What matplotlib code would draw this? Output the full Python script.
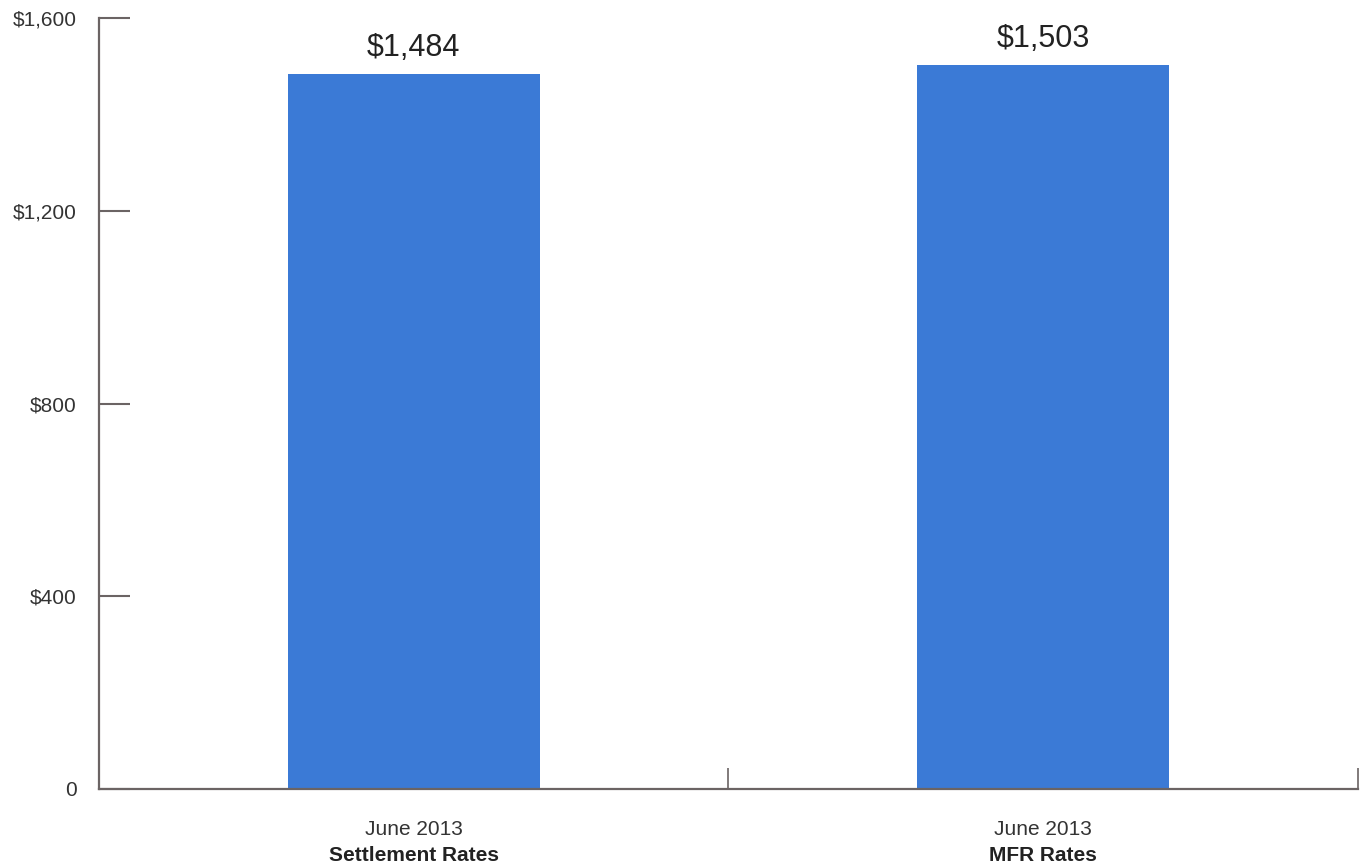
import matplotlib.pyplot as plt
import numpy as np

# values and labels
periods = ['June 2013', 'June 2013']
series_names = ['Settlement Rates', 'MFR Rates']
rates = [1484, 1503]
y_ticks = [0, 400, 800, 1200, 1600]
y_tick_labels = ['0', '$400', '$800', '$1,200', '$1,600']

plt.rcParams['font.family'] = ['Liberation Sans', 'DejaVu Sans']
axis_color = '#6b6464'
bar_color = '#3b7ad6'

fig = plt.figure(figsize=(13.66, 8.67), dpi=100)
ax = fig.add_axes([0.0725, 0.09, 0.9215, 0.889])

x = np.arange(len(rates))
ax.bar(x, rates, width=0.4, color=bar_color, zorder=2)
for xi, v in zip(x, rates):
  ax.text(xi, v + 22, '${:,}'.format(v), ha='center', va='bottom', fontsize=22, color='#222222')

ax.set_xlim(-0.5, len(rates) - 0.5)
ax.set_ylim(0, 1600)

ax.set_yticks(y_ticks)
ax.set_yticklabels(y_tick_labels, fontsize=15, color='#333333')
ax.tick_params(axis='y', direction='in', length=22, width=1.5, color=axis_color, pad=16)

ax.set_xticks(x)
ax.set_xticklabels([])
ax.tick_params(axis='x', which='major', length=0)
ax.set_xticks(x + 0.5, minor=True)
ax.tick_params(axis='x', which='minor', direction='in', length=15, width=1.2, color=axis_color)

# two-line category labels: period on top, series name in bold below
for xi, period, name in zip(x, periods, series_names):
  ax.text(xi, -0.052, period, transform=ax.get_xaxis_transform(), ha='center', va='center',
          fontsize=15, color='#333333')
  ax.text(xi, -0.086, name, transform=ax.get_xaxis_transform(), ha='center', va='center',
          fontsize=15, fontweight='bold', color='#222222')

for side in ['top', 'right']:
  ax.spines[side].set_visible(False)
for side in ['left', 'bottom']:
  ax.spines[side].set_color(axis_color)
  ax.spines[side].set_linewidth(1.6)

plt.savefig('out.png')
